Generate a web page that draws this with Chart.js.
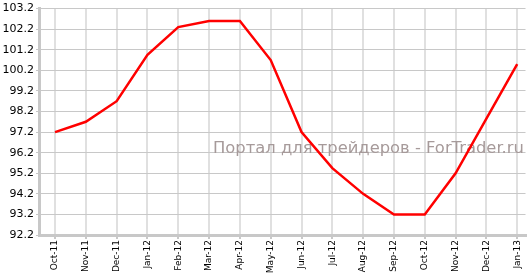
<!DOCTYPE html>
<html>
<head>
<meta charset="utf-8">
<script src="https://cdn.jsdelivr.net/npm/chart.js@4"></script>
<style>
  html, body { margin: 0; padding: 0; background: #fff; }
  #wrap { width: 529px; height: 274px; }
</style>
</head>
<body>
<div id="wrap"><canvas id="chart" width="529" height="274"></canvas></div>
<script>
// --- Données ---
const months = ['Oct-11','Nov-11','Dec-11','Jan-12','Feb-12','Mar-12','Apr-12','May-12',
                'Jun-12','Jul-12','Aug-12','Sep-12','Oct-12','Nov-12','Dec-12','Jan-13'];
const values = [97.2, 97.7, 98.7, 100.95, 102.3, 102.6, 102.6, 100.7,
                97.2, 95.45, 94.2, 93.2, 93.2, 95.2, 97.85, 100.5];
const yMin = 92.2, yMax = 103.2, yStep = 1;
const watermark = 'Портал для трейдеров - ForTrader.ru';

// --- Filigrane (sous la courbe) ---
const watermarkPlugin = {
  id: 'watermark',
  beforeDatasetsDraw(chart) {
    const ctx = chart.ctx;
    ctx.save();
    ctx.font = '16px "DejaVu Sans", sans-serif';
    // on ajuste la taille pour la largeur voulue
    const w = ctx.measureText(watermark).width;
    const size = 16 * 311 / w;
    ctx.font = size.toFixed(2) + 'px "DejaVu Sans", sans-serif';
    ctx.fillStyle = '#a69a9a';
    ctx.textBaseline = 'alphabetic';
    ctx.fillText(watermark, 213, 153);
    ctx.restore();
  }
};

new Chart(document.getElementById('chart').getContext('2d'), {
  type: 'line',
  data: {
    datasets: [{
      data: values.map((v, i) => ({ x: i, y: v })),
      borderColor: '#ff0000',
      borderWidth: 2.5,
      pointRadius: 0,
      tension: 0,
      fill: false
    }]
  },
  options: {
    responsive: false,
    animation: false,
    events: [],
    layout: { padding: { top: 4, right: 0, left: 0, bottom: 0 } },
    plugins: { legend: { display: false }, tooltip: { enabled: false } },
    scales: {
      x: {
        type: 'linear',
        min: -0.52,
        max: 15.27,
        afterFit: s => { s.height = 39; },
        afterBuildTicks: s => { s.ticks = months.map((m, i) => ({ value: i })); },
        ticks: {
          stepSize: 1,
          includeBounds: false,
          autoSkip: false,
          minRotation: 90,
          maxRotation: 90,
          padding: 1,
          color: '#000',
          font: { family: '"DejaVu Sans", sans-serif', size: 9 },
          callback: v => months[v] || ''
        },
        grid: { color: '#e0e0e0', lineWidth: 2, tickLength: 4, tickColor: '#c8c8c8' },
        border: { color: '#c8c8c8', width: 3 }
      },
      y: {
        min: yMin,
        max: yMax,
        afterFit: s => { s.width = 39; },
        ticks: {
          stepSize: yStep,
          padding: 2,
          color: '#000',
          font: { family: '"DejaVu Sans", sans-serif', size: 11 },
          callback: v => Number(v).toFixed(1)
        },
        grid: { color: '#c8c8c8', lineWidth: 1, tickLength: 3, tickColor: '#c8c8c8' },
        border: { color: '#c8c8c8', width: 3 }
      }
    }
  },
  plugins: [watermarkPlugin]
});
</script>
</body>
</html>
